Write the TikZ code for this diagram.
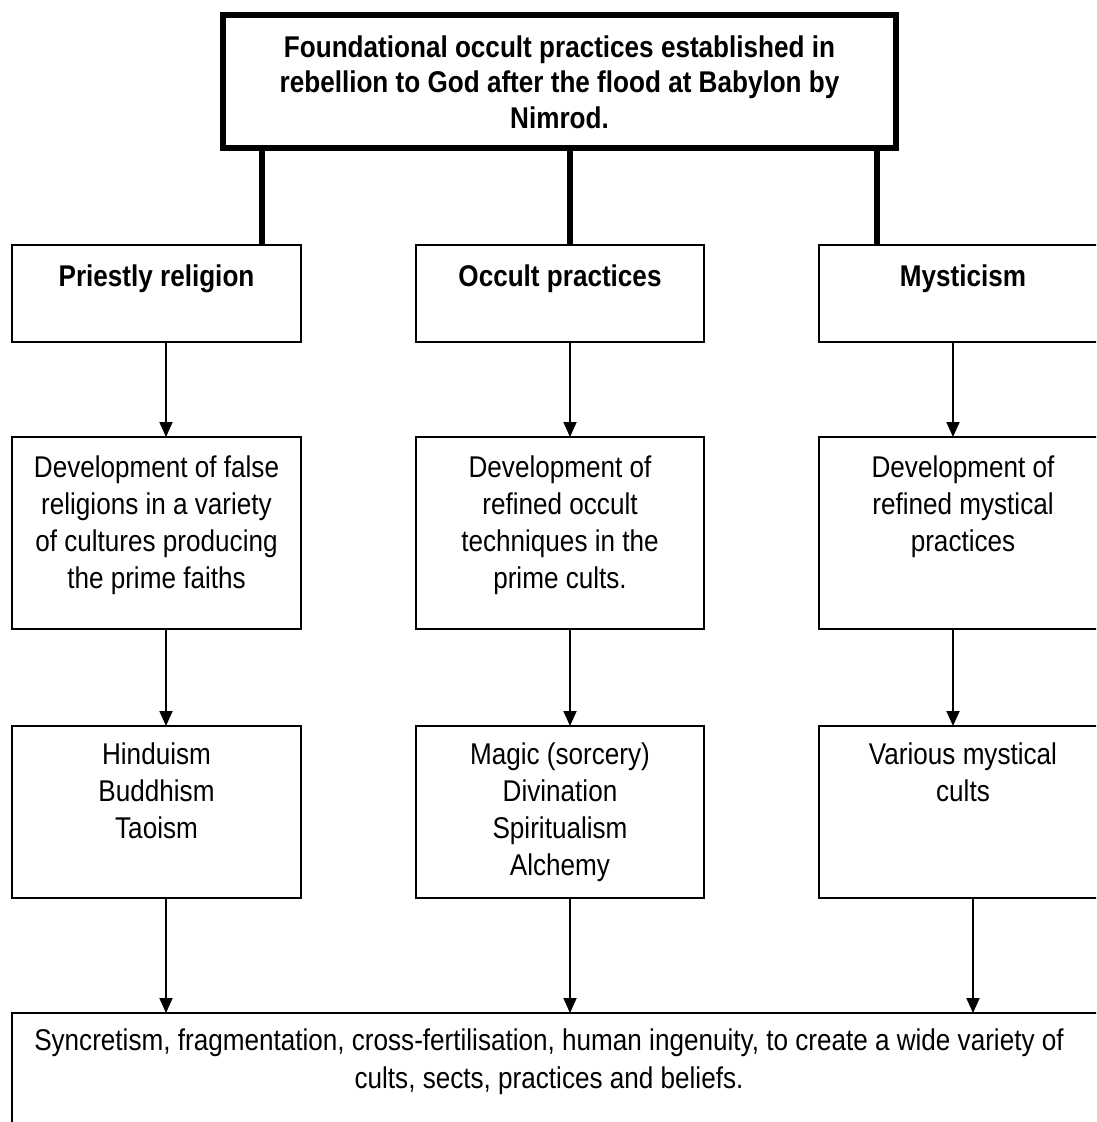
\documentclass[tikz,border=0pt]{standalone}
\usepackage{fontspec}
\setmainfont{Liberation Sans}[FakeStretch=0.87]
\usetikzlibrary{arrows.meta}
\begin{document}
\begin{tikzpicture}[x=1pt,y=-1pt,
  box/.style={draw=black,line width=1.8pt,fill=white,inner sep=0pt,outer sep=0pt,rectangle},
  topbox/.style={draw=black,line width=5.5pt,fill=white,inner sep=0pt,outer sep=0pt,rectangle},
  txt/.style={font=\fontsize{30}{37}\selectfont,align=center,inner sep=0pt,anchor=base},
  btxt/.style={txt,font=\fontsize{30}{35.5}\selectfont\bfseries},
  arr/.style={line width=1.8pt,-{Triangle[width=13pt,length=15pt]}},
  stem/.style={line width=5.5pt}]
\useasboundingbox (0,0) rectangle (1096,1122);
\fill[white] (0,0) rectangle (1096,1122);
\clip (0,0) rectangle (1096,1122);
% boxes
\node[topbox,minimum width=673pt,minimum height=133pt] (top) at (559.5,81.5) {};
\node[box,minimum width=289pt,minimum height=97pt] (pr) at (156.5,293.5) {};
\node[box,minimum width=288pt,minimum height=97pt] (oc) at (560,293.5) {};
\node[box,minimum width=288pt,minimum height=97pt] (my) at (963,293.5) {};
\node[box,minimum width=289pt,minimum height=192pt] (d1) at (156.5,533) {};
\node[box,minimum width=288pt,minimum height=192pt] (d2) at (560,533) {};
\node[box,minimum width=288pt,minimum height=192pt] (d3) at (963,533) {};
\node[box,minimum width=289pt,minimum height=172pt] (e1) at (156.5,812) {};
\node[box,minimum width=288pt,minimum height=172pt] (e2) at (560,812) {};
\node[box,minimum width=288pt,minimum height=172pt] (e3) at (963,812) {};
\node[box,minimum width=1095pt,minimum height=137pt] (bot) at (559.5,1081.5) {};
% column coordinates
\coordinate (sA) at (262,0);
\coordinate (sB) at (570,0);
\coordinate (sC) at (877,0);
\coordinate (aA) at (166,0);
\coordinate (aB) at (570,0);
\coordinate (aC) at (953,0);
\coordinate (aD) at (973,0);
% stems
\draw[stem] (top.south -| sA) -- (pr.north -| sA);
\draw[stem] (top.south -| sB) -- (oc.north -| sB);
\draw[stem] (top.south -| sC) -- (my.north -| sC);
% arrows
\draw[arr] (pr.south -| aA) -- (d1.north -| aA);
\draw[arr] (oc.south -| aB) -- (d2.north -| aB);
\draw[arr] (my.south -| aC) -- (d3.north -| aC);
\draw[arr] (d1.south -| aA) -- (e1.north -| aA);
\draw[arr] (d2.south -| aB) -- (e2.north -| aB);
\draw[arr] (d3.south -| aC) -- (e3.north -| aC);
\draw[arr] (e1.south -| aA) -- (bot.north -| aA);
\draw[arr] (e2.south -| aB) -- (bot.north -| aB);
\draw[arr] (e3.south -| aD) -- (bot.north -| aD);
% texts (anchor = baseline of the last line)
\node[btxt] (ttop) at (559.5,128) {Foundational occult practices established in\\rebellion to God after the flood at Babylon by\\Nimrod.};
\node[btxt] (tpr) at (156.5,286) {Priestly religion};
\node[btxt] (toc) at (560,286) {Occult practices};
\node[btxt] (tmy) at (963,286) {Mysticism};
\node[txt] (td1) at (156.5,588) {Development of false\\religions in a variety\\of cultures producing\\the prime faiths};
\node[txt] (td2) at (560,588) {Development of\\refined occult\\techniques in the\\prime cults.};
\node[txt] (td3) at (963,551) {Development of\\refined mystical\\practices};
\node[txt] (te1) at (156.5,838) {Hinduism\\Buddhism\\Taoism};
\node[txt] (te2) at (560,875) {Magic (sorcery)\\Divination\\Spiritualism\\Alchemy};
\node[txt] (te3) at (963,801) {Various mystical\\cults};
\node[txt,font=\fontsize{30}{38}\selectfont] (tbot) at (549,1088) {Syncretism, fragmentation, cross-fertilisation, human ingenuity, to create a wide variety of\\cults, sects, practices and beliefs.};
\end{tikzpicture}
\end{document}
